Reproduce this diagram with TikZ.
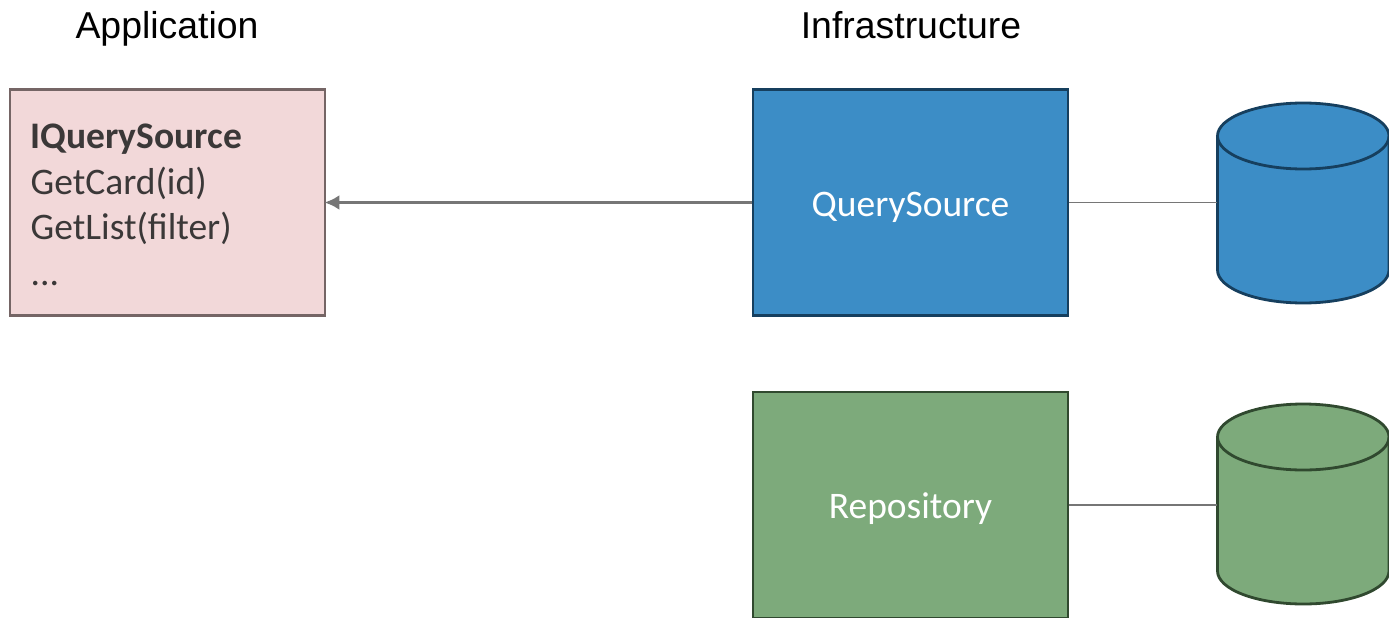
\documentclass[tikz,border=0pt]{standalone}
\usepackage{fontspec}
\setmainfont{Carlito}
\newfontfamily\headfont{Liberation Sans}
\usetikzlibrary{arrows.meta}
\definecolor{pinkfill}{HTML}{F2D8D9}
\definecolor{pinkline}{HTML}{756565}
\definecolor{bluefill}{HTML}{3C8DC6}
\definecolor{blueline}{HTML}{163F5E}
\definecolor{greenfill}{HTML}{7DAA7B}
\definecolor{greenline}{HTML}{30492F}
\definecolor{boxtext}{HTML}{3B3838}
\definecolor{conn}{HTML}{767676}
\tikzset{
  x=1pt,y=-1pt,
  heading/.style={font=\headfont\fontsize{37.4}{44}\selectfont,text=black,inner sep=0pt,anchor=base},
  box/.style={draw,line width=2.8pt,minimum width=315pt,minimum height=226pt,inner sep=0pt,anchor=center},
  bluebox/.style={box,fill=bluefill,draw=blueline,text=white,font=\fontsize{37.5}{44}\selectfont},
  greenbox/.style={box,fill=greenfill,draw=greenline,text=white,font=\fontsize{37.5}{44}\selectfont},
  pinkbox/.style={box,fill=pinkfill,draw=pinkline},
  boxlines/.style={anchor=west,inner sep=0pt,align=left,text=boxtext,font=\fontsize{37.5}{45.5}\selectfont},
  dbspot/.style={inner sep=0pt,minimum width=172pt,minimum height=200pt},
  link/.style={draw=conn,line width=1.4pt},
  uses/.style={draw=conn,line width=3pt,shorten >=-2pt,-{Latex[length=15pt,width=15pt]}},
}
\newcommand{\dbdraw}[3]{% top y, fill, line
  \path[fill=#2,draw=#3,line width=2.8pt]
    (1217.5,#1+33) -- (1217.5,#1+167)
    arc[start angle=180,end angle=360,x radius=85.75pt,y radius=33pt]
    -- (1389,#1+33)
    arc[start angle=0,end angle=180,x radius=85.75pt,y radius=33pt] -- cycle;
  \path[draw=#3,line width=2.8pt]
    (1217.5,#1+33) arc[start angle=180,end angle=360,x radius=85.75pt,y radius=33pt];
}
\newcommand{\boxlabel}[1]{\smash{\raisebox{-13.5pt}{#1}}}
\begin{document}
\begin{tikzpicture}
\useasboundingbox (0,0) rectangle (1389,618);
\fill[white] (0,0) rectangle (1389,618);
\node[heading] (apphead) at (167,38.5) {Application};
\node[heading] (infrahead) at (911,38.5) {Infrastructure};
\node[pinkbox] (iqs) at (167.5,202.5) {};
\node[boxlines] (iqstext) at (30.5,205)
  {\textbf{IQuerySource}\\GetCard(id)\\GetList(filter)\\...};
\node[bluebox] (qs) at (910.5,202.5) {\boxlabel{QuerySource}};
\node[greenbox] (repo) at (910.5,505) {\boxlabel{Repository}};
\dbdraw{103}{bluefill}{blueline}
\dbdraw{404}{greenfill}{greenline}
\node[dbspot] (db1) at (1303,202.5) {};
\node[dbspot] (db2) at (1303,503.5) {};
\draw[uses] (qs.west) -- (iqs.east);
\draw[link] (qs.east) -- (qs.east -| db1.west);
\draw[link] (repo.east) -- (repo.east -| db2.west);
\end{tikzpicture}
\end{document}
